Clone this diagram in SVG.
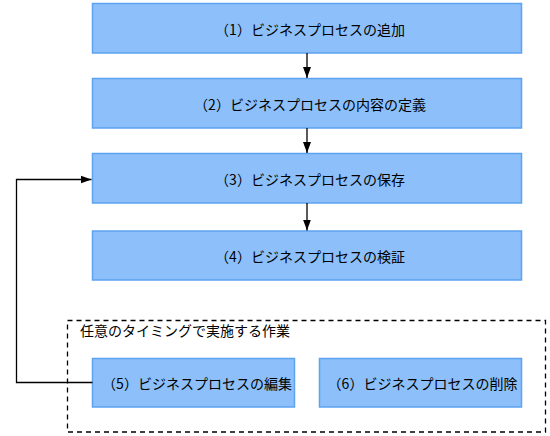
<svg xmlns="http://www.w3.org/2000/svg" width="550" height="436" viewBox="0 0 550 436">
<style>
.box{fill:#8dc0fb;stroke:#5da2f0;stroke-width:1.5}
.t{font-family:"Noto Sans CJK JP","Noto Sans",sans-serif;font-size:14px;fill:#000;text-anchor:middle;dominant-baseline:central}
.lbl{font-family:"Noto Sans CJK JP","Noto Sans",sans-serif;font-size:14px;fill:#000}
.c{fill:none;stroke:#000;stroke-width:1.3}
.grp{fill:none;stroke:#000;stroke-width:1.3;stroke-dasharray:5,4}
</style>
<defs>
<marker id="ah" markerWidth="12" markerHeight="10" refX="11" refY="5" orient="auto" markerUnits="userSpaceOnUse">
<path d="M0,1 L11,5 L0,9 Z" fill="#000"/>
</marker>
</defs>
<g id="group-adhoc">
<rect class="grp" x="67.5" y="320.5" width="478" height="111.5"/>
<text class="lbl" x="80" y="336">任意のタイミングで実施する作業</text>
</g>
<g id="n1"><rect class="box" x="92.5" y="3.5" width="429" height="49.5"/><text class="t" x="310" y="28.5">（1）ビジネスプロセスの追加</text></g>
<g id="n2"><rect class="box" x="92.5" y="78.5" width="429" height="49.5"/><text class="t" x="310" y="103.5">（2）ビジネスプロセスの内容の定義</text></g>
<g id="n3"><rect class="box" x="92.5" y="153.5" width="429" height="49.5"/><text class="t" x="310" y="178.5">（3）ビジネスプロセスの保存</text></g>
<g id="n4"><rect class="box" x="92.5" y="231" width="429" height="49"/><text class="t" x="310" y="255.5">（4）ビジネスプロセスの検証</text></g>
<g id="n5"><rect class="box" x="92.5" y="358.5" width="202" height="48.5"/><text class="t" x="197" y="383">（5）ビジネスプロセスの編集</text></g>
<g id="n6"><rect class="box" x="319.5" y="358.5" width="202" height="48.5"/><text class="t" x="422.5" y="383">（6）ビジネスプロセスの削除</text></g>
<g id="connectors">
<line class="c" x1="307" y1="53" x2="307" y2="78" marker-end="url(#ah)"/>
<line class="c" x1="307" y1="128" x2="307" y2="153" marker-end="url(#ah)"/>
<line class="c" x1="307" y1="203" x2="307" y2="230.5" marker-end="url(#ah)"/>
<path class="c" d="M92.5,382.5 H16.5 V179.5 H91.5" marker-end="url(#ah)"/>
</g>
</svg>
